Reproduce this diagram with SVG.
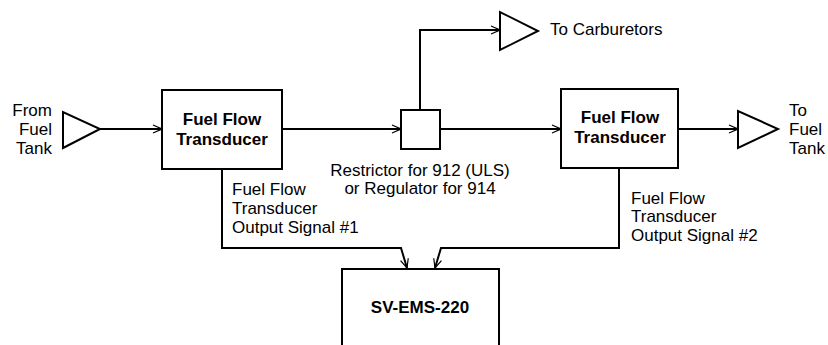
<svg xmlns="http://www.w3.org/2000/svg" width="828" height="345" viewBox="0 0 828 345">
<style>
.box{fill:#fff;stroke:#000;stroke-width:2}
.tri{fill:#fff;stroke:#000;stroke-width:2;stroke-linejoin:miter}
.wire{fill:none;stroke:#000;stroke-width:2}
text{font-family:"Liberation Sans",Arial,sans-serif;font-size:17px;fill:#000}
.b{font-weight:bold}
</style>
<defs>
<marker id="arr" viewBox="0 0 10 10" refX="10" refY="5" markerWidth="10" markerHeight="10" markerUnits="userSpaceOnUse" orient="auto">
<path d="M1,1 L10,5 L1,9" fill="none" stroke="#000" stroke-width="1.2"/>
</marker>
</defs>
<rect width="828" height="345" fill="#fff"/>
<g id="connectors">
<path class="wire" d="M100,129 H162" marker-end="url(#arr)"/>
<path class="wire" d="M282,129 H401" marker-end="url(#arr)"/>
<path class="wire" d="M440,129 H561" marker-end="url(#arr)"/>
<path class="wire" d="M678,129 H738" marker-end="url(#arr)"/>
<path class="wire" d="M420,110 V30 H500" marker-end="url(#arr)"/>
<path class="wire" d="M222,169 V248 H401 L407,268" marker-end="url(#arr)"/>
<path class="wire" d="M619,168 V248 H441 L435,268" marker-end="url(#arr)"/>
</g>
<g id="from-tank">
<polygon class="tri" points="63,112 63,148 100,129"/>
<text x="52" y="116" text-anchor="end">From</text>
<text x="52" y="135" text-anchor="end">Fuel</text>
<text x="52" y="154" text-anchor="end">Tank</text>
</g>
<g id="transducer1">
<rect class="box" x="162" y="90" width="120" height="79"/>
<text class="b" x="222" y="125" text-anchor="middle">Fuel Flow</text>
<text class="b" x="222" y="145" text-anchor="middle">Transducer</text>
</g>
<g id="restrictor">
<rect class="box" x="401" y="110" width="39" height="39"/>
<text x="420" y="176" text-anchor="middle">Restrictor for 912 (ULS)</text>
<text x="420" y="194" text-anchor="middle">or Regulator for 914</text>
</g>
<g id="carburetors">
<polygon class="tri" points="500,12 500,50 538,31"/>
<text x="550" y="35">To Carburetors</text>
</g>
<g id="transducer2">
<rect class="box" x="561" y="89" width="117" height="79"/>
<text class="b" x="620" y="123" text-anchor="middle">Fuel Flow</text>
<text class="b" x="620" y="143" text-anchor="middle">Transducer</text>
</g>
<g id="to-tank">
<polygon class="tri" points="738,111 738,148 778,129"/>
<text x="789" y="116">To</text>
<text x="789" y="135">Fuel</text>
<text x="789" y="154">Tank</text>
</g>
<g id="signal1">
<text x="232" y="195">Fuel Flow</text>
<text x="232" y="214">Transducer</text>
<text x="232" y="233">Output Signal #1</text>
</g>
<g id="signal2">
<text x="631" y="204">Fuel Flow</text>
<text x="631" y="222">Transducer</text>
<text x="631" y="241">Output Signal #2</text>
</g>
<g id="ems">
<rect class="box" x="342" y="269" width="157" height="90"/>
<text class="b" x="420" y="313" text-anchor="middle">SV-EMS-220</text>
</g>
</svg>
